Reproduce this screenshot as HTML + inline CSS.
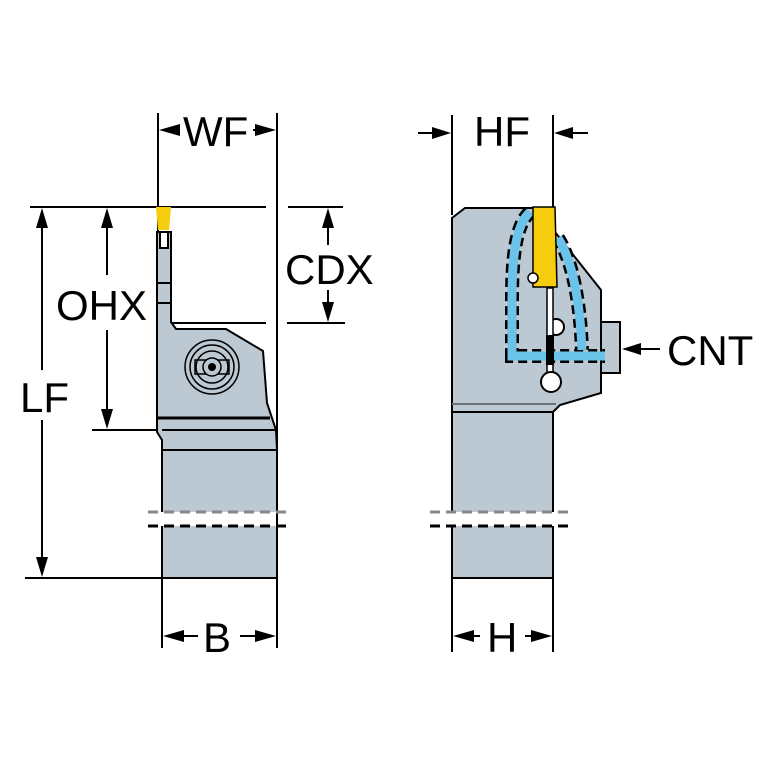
<!DOCTYPE html>
<html><head><style>
html,body{margin:0;padding:0;background:#fff;}
svg{display:block;}
text{font-family:"Liberation Sans",Arial,sans-serif;fill:#000;}
</style></head><body>
<svg width="767" height="767" viewBox="0 0 767 767" xmlns="http://www.w3.org/2000/svg">
<defs>
<marker id="ah" viewBox="0 0 10 10" refX="10" refY="5" markerWidth="5" markerHeight="4" orient="auto-start-reverse" markerUnits="userSpaceOnUse">
</marker>
</defs>
<g stroke="#000" stroke-width="2" fill="none">
<!-- extension lines -->
<line x1="30" y1="207" x2="266" y2="207"/>
<line x1="288" y1="207" x2="343" y2="207"/>
<line x1="170" y1="323" x2="266" y2="323"/>
<line x1="287" y1="323" x2="345" y2="323"/>
<line x1="92" y1="430" x2="160" y2="430"/>
<line x1="25" y1="578" x2="162" y2="578"/>
<line x1="158" y1="113" x2="158" y2="430"/>
<line x1="277" y1="113" x2="277" y2="648"/>
<line x1="162" y1="578" x2="162" y2="648"/>
<line x1="452" y1="115" x2="452" y2="215"/>
<line x1="553" y1="115" x2="553" y2="210"/>
<line x1="452" y1="578" x2="452" y2="652"/>
<line x1="553" y1="578" x2="553" y2="652"/>
<!-- dim lines -->
<line x1="42" y1="225" x2="42" y2="370"/>
<line x1="42" y1="420" x2="42" y2="560"/>
<line x1="107" y1="225" x2="107" y2="275"/>
<line x1="107" y1="330" x2="107" y2="412"/>
<line x1="328" y1="225" x2="328" y2="245"/>
<line x1="328" y1="290" x2="328" y2="305"/>
<line x1="175" y1="636" x2="198" y2="636"/>
<line x1="240" y1="636" x2="262" y2="636"/>
<line x1="465" y1="636" x2="480" y2="636"/>
<line x1="525" y1="636" x2="540" y2="636"/>
<line x1="418" y1="133" x2="440" y2="133"/>
<line x1="565" y1="133" x2="588" y2="133"/>
<line x1="635" y1="349" x2="660" y2="349"/>
<line x1="170" y1="130" x2="180" y2="130"/>
<line x1="253" y1="130" x2="265" y2="130"/>
</g>
<g fill="#000">
<!-- arrowheads -->
<polygon points="42,208 36,228 48,228"/>
<polygon points="42,577 36,557 48,557"/>
<polygon points="107,208 101,228 113,228"/>
<polygon points="107,429 101,409 113,409"/>
<polygon points="328,208 322,228 334,228"/>
<polygon points="328,322 322,302 334,302"/>
<polygon points="159,130 180,124 180,136"/>
<polygon points="276,130 255,124 255,136"/>
<polygon points="163,636 184,630 184,642"/>
<polygon points="276,636 255,630 255,642"/>
<polygon points="453,636 474,630 474,642"/>
<polygon points="552,636 531,630 531,642"/>
<polygon points="451,133 432,127 432,139"/>
<polygon points="554,133 573,127 573,139"/>
<polygon points="622,349 641,343 641,355"/>
</g>
<g font-size="42">
<text x="183" y="146">WF</text>
<text x="474" y="146">HF</text>
<text x="285" y="284">CDX</text>
<text x="56" y="320">OHX</text>
<text x="20" y="412">LF</text>
<text x="203" y="652">B</text>
<text x="487" y="652">H</text>
<text x="667" y="365">CNT</text>
</g>

<!-- LEFT VIEW -->
<g stroke="#000" stroke-width="2" fill="#bcc8d2">
<rect x="162" y="450" width="115" height="62" stroke="none"/>
<rect x="162" y="526" width="115" height="52" stroke="none"/>
<polyline points="162,450 162,512" fill="none"/>
<polyline points="277,450 277,512" fill="none"/>
<polyline points="162,526 162,578 277,578 277,526" fill="none"/>
<polygon points="157,232 171,232 171,322 176,329 226,329 263,351 267,403 276,430 277,450 162,450 162,440 157,432"/>
<line x1="157" y1="418" x2="270" y2="418" stroke-width="3"/>
<line x1="162" y1="430" x2="275" y2="430"/>
<line x1="162" y1="450" x2="277" y2="450"/>
<rect x="157" y="283" width="14" height="20" fill="none"/>
<rect x="160" y="232" width="8" height="16" fill="#fff" stroke-width="2"/>
<polygon points="156,207 171,207 169,230 158,230" fill="#f6cd0c" stroke="none"/>
<circle cx="212" cy="367" r="27" fill="none" stroke-width="1.5"/>
<circle cx="212" cy="367" r="22" fill="none" stroke-width="1.5"/>
<circle cx="212" cy="367" r="16" fill="none" stroke-width="1.5"/>
<rect x="195" y="360" width="34" height="14" fill="none" stroke-width="1.5"/>
<circle cx="212" cy="367" r="9" fill="#bcc8d2" stroke-width="1.5"/>
<circle cx="212" cy="367" r="4" fill="#000" stroke="none"/>
</g>
<!-- RIGHT VIEW -->
<g stroke="#000" stroke-width="2" fill="#bcc8d2">
<rect x="452" y="410" width="101" height="102" stroke="none"/>
<rect x="452" y="526" width="101" height="52" stroke="none"/>
<polyline points="452,410 452,512" fill="none"/>
<polyline points="553,410 553,512" fill="none"/>
<polyline points="452,526 452,578 553,578 553,526" fill="none"/>
<rect x="601" y="322" width="19" height="51"/>
<polygon points="452,218 465,208 533,208 555,232 601,290 601,393 560,405 553,412 452,412"/>
<line x1="452" y1="404" x2="556" y2="404" stroke="#6a737c"/>
<!-- coolant -->
<path d="M530,212 C515,225 512,260 512,300 L512,356 L605,356" fill="none" stroke="#000" stroke-width="14" stroke-dasharray="9,5"/>
<path d="M530,212 C515,225 512,260 512,300 L512,356 L605,356" fill="none" stroke="#6cc3ea" stroke-width="9"/>
<path d="M558,238 C572,260 580,300 582,350" fill="none" stroke="#000" stroke-width="14" stroke-dasharray="9,5"/>
<path d="M558,238 C572,260 580,300 582,350" fill="none" stroke="#6cc3ea" stroke-width="9"/>
<path d="M530,212 C515,225 512,260 512,300 L512,356 L605,356" fill="none" stroke="#6cc3ea" stroke-width="6"/>
<circle cx="556" cy="327" r="8" fill="#fff"/>
<rect x="547" y="288" width="6" height="95" fill="#fff" stroke-width="1.5"/>
<rect x="546" y="335" width="8" height="30" fill="#000" stroke="none"/>
<circle cx="551" cy="382" r="10" fill="#fff"/>
<polygon points="533,207 555,207 557,287 533,287" fill="#f6cd0c" stroke-width="1.5"/>
<circle cx="533" cy="278" r="5" fill="#fff" stroke-width="1.5"/>
</g>
<!-- break lines -->
<g stroke-width="3" stroke-dasharray="10,6">
<line x1="148" y1="512" x2="291" y2="512" stroke="#888"/>
<line x1="148" y1="526" x2="291" y2="526" stroke="#000"/>
<line x1="430" y1="512" x2="572" y2="512" stroke="#888"/>
<line x1="430" y1="526" x2="572" y2="526" stroke="#000"/>
</g>
</svg>
</body></html>
